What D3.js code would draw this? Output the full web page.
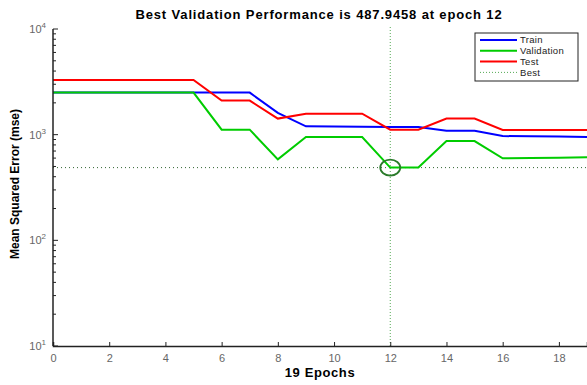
<!DOCTYPE html>
<html><head><meta charset="utf-8">
<script src="https://cdn.jsdelivr.net/npm/d3@7"></script>
<style>body{margin:0;background:#fff;} svg{font-family:"Liberation Sans",Arial,sans-serif;}</style>
</head><body>
<svg id="c" width="587" height="385"></svg>
<script>
const epochs = d3.range(0, 20);
const train = [2500,2500,2500,2500,2500,2500,2500,2500,1610,1200,1195,1190,1180,1180,1090,1090,970,965,960,950];
const validation = [2500,2500,2500,2500,2500,2500,1115,1115,584,950,950,950,488,488,870,870,598,600,605,610];
const test = [3300,3300,3300,3300,3300,3300,2100,2100,1420,1580,1580,1580,1115,1115,1420,1420,1110,1110,1110,1110];
const bestEpoch = 12, bestValue = 487.9458;
const xTicks = [0,2,4,6,8,10,12,14,16,18];
const yTickExps = [1,2,3,4];
const legendLabels = ["Train","Validation","Test","Best"];

const svg = d3.select("#c");
const x = d3.scaleLinear().domain([0,19]).range([53,587]);
const y = d3.scaleLog().domain([10,10000]).range([346,29]);

// best lines
svg.append("line").attr("x1",x(0)).attr("x2",x(19)).attr("y1",y(bestValue)).attr("y2",y(bestValue))
  .attr("stroke","#336633").attr("stroke-width",1).attr("stroke-dasharray","1,3");
svg.append("line").attr("x1",x(bestEpoch)).attr("x2",x(bestEpoch)).attr("y1",y(10000)-2).attr("y2",y(10))
  .attr("stroke","#55aa55").attr("stroke-width",1).attr("stroke-dasharray","1,2");

const line = d3.line().x((d,i)=>x(epochs[i])).y(d=>y(d));
const series = [[train,"#0000ff"],[validation,"#00cc00"],[test,"#ff0000"]];
series.forEach(([vals,col])=>{
  svg.append("path").attr("d",line(vals)).attr("fill","none").attr("stroke",col).attr("stroke-width",2);
});
svg.append("ellipse").attr("cx",x(bestEpoch)).attr("cy",y(bestValue)).attr("rx",10).attr("ry",8)
  .attr("fill","none").attr("stroke","#2a7a2a").attr("stroke-width",1.8);

// axes
const xAxis = d3.axisBottom(x).tickValues(xTicks).tickSize(-4).tickPadding(8);
const gx = svg.append("g").attr("transform","translate(0,346)").call(xAxis);
gx.select(".domain").attr("stroke","#222").attr("stroke-width",1.5);
gx.selectAll(".tick line").attr("stroke","#222");
gx.selectAll("text").attr("font-size",11).attr("fill","#666");

const minor = [];
for (let e=1;e<4;e++) for (let k=2;k<10;k++) minor.push(k*Math.pow(10,e));
const gy = svg.append("g").attr("transform","translate(53,0)");
gy.append("line").attr("x1",0).attr("x2",0).attr("y1",y(10000)).attr("y2",y(10)).attr("stroke","#222").attr("stroke-width",1.5);
gy.selectAll(".mn").data(minor).enter().append("line").attr("x1",0).attr("x2",3).attr("y1",d=>y(d)).attr("y2",d=>y(d)).attr("stroke","#222");
yTickExps.forEach(e=>{
  const v = Math.pow(10,e);
  gy.append("line").attr("x1",0).attr("x2",5).attr("y1",y(v)).attr("y2",y(v)).attr("stroke","#222");
  const t = gy.append("text").attr("x",-7).attr("y",y(v)+4).attr("text-anchor","end").attr("fill","#666").attr("font-size",11);
  t.append("tspan").text("10");
  t.append("tspan").attr("dy",-5).attr("font-size",8).text(e);
});

// titles
svg.append("text").attr("x",319).attr("y",19).attr("text-anchor","middle").attr("font-weight","bold").attr("font-size",13)
  .attr("letter-spacing",0.85).text("Best Validation Performance is 487.9458 at epoch 12");
svg.append("text").attr("x",320).attr("y",377).attr("text-anchor","middle").attr("font-weight","bold").attr("font-size",13)
  .attr("letter-spacing",0.6).text("19 Epochs");
svg.append("text").attr("transform","translate(19,184) rotate(-90)").attr("text-anchor","middle").attr("font-weight","bold").attr("font-size",12)
  .text("Mean Squared Error  (mse)");

// legend
const lg = svg.append("g");
lg.append("rect").attr("x",475).attr("y",33).attr("width",103).attr("height",48).attr("fill","#fff").attr("stroke","#222").attr("stroke-width",1);
const legCols = ["#0000ff","#00cc00","#ff0000","#55aa55"];
legendLabels.forEach((lab,i)=>{
  const yy = 40 + i*10.8;
  lg.append("line").attr("x1",480).attr("x2",517).attr("y1",yy).attr("y2",yy).attr("stroke",legCols[i])
    .attr("stroke-width",i===3?1:2).attr("stroke-dasharray",i===3?"1,2":null);
  lg.append("text").attr("x",520).attr("y",yy+3.3).attr("font-size",9.5).attr("letter-spacing",0.3).attr("fill","#222").text(lab);
});
</script>
</body></html>
